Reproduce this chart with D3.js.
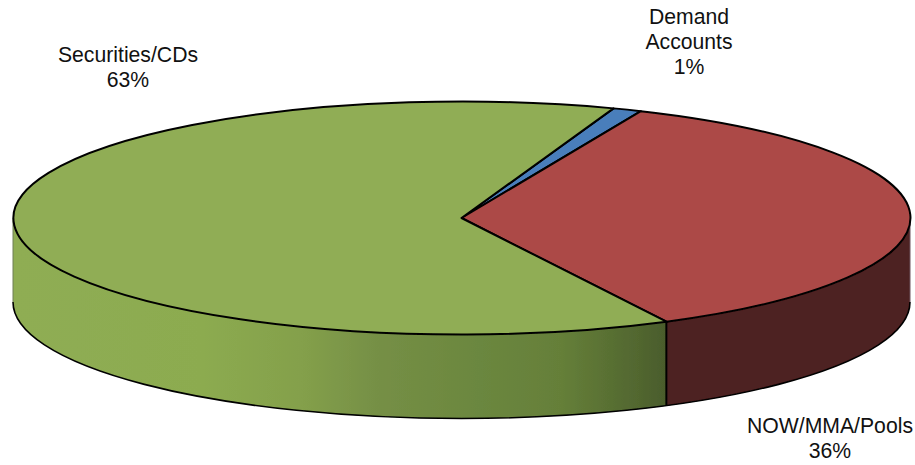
<!DOCTYPE html>
<html>
<head>
<meta charset="utf-8">
<script src="https://cdn.jsdelivr.net/npm/d3@7"></script>
<style>
  html, body { margin: 0; padding: 0; background: #fff; }
  svg { display: block; }
</style>
</head>
<body>
<div id="chart"></div>
<script>
// chart data
var categories = ["Demand Accounts", "NOW/MMA/Pools", "Securities/CDs"];
var values = [1.05, 35.9, 63.05];
var topColors = ["#4a7ebb", "#ac4a47", "#90ad55"];

// text lines of each label, in the same order as categories
var labelLines = [["Demand", "Accounts", "1%"], ["NOW/MMA/Pools", "36%"], ["Securities/CDs", "63%"]];
var labelX = [689, 830, 128];
var labelY = [24, 433, 62];

// green wall shading, left to right
var greenStops = [[0, "#8fad53"], [0.29, "#8cab50"], [0.44, "#84a04b"], [0.56, "#758f45"], [0.715, "#6b873f"], [0.84, "#657f39"], [0.96, "#51662f"], [1, "#4a5c2c"]];

// assign SVG dimensions (pixels) to variables
var svgWidth = 915;
var svgHeight = 465;

// pie ellipse
var cx = 461.5;
var cy = 218;
var rx = 448.5;
var ry = 116.5;
var depth = 84;

var svg = d3.select("#chart")
  .append("svg")
  .attr("width", svgWidth)
  .attr("height", svgHeight);

// pie angles, clockwise from the top
var startAngle = 19.8 * Math.PI / 180;
var pie = d3.pie()
  .sort(null)
  .startAngle(startAngle)
  .endAngle(startAngle + 2 * Math.PI);
var slices = pie(values);
var splitAngle = slices[1].endAngle;

// point on the rim for an angle
function rim(a, dy) {
  return [cx + rx * Math.sin(a), cy - ry * Math.cos(a) + (dy || 0)];
}

var defs = svg.append("defs");

// the reference is a slightly soft scan
defs.append("filter")
  .attr("id", "soft")
  .append("feGaussianBlur")
  .attr("stdDeviation", 0.35);

// gradient for the green wall
var grad = defs.append("linearGradient")
  .attr("id", "greenWall")
  .attr("gradientUnits", "userSpaceOnUse")
  .attr("x1", cx - rx)
  .attr("x2", rim(splitAngle)[0])
  .attr("y1", 0)
  .attr("y2", 0);
grad.selectAll("stop")
  .data(greenStops)
  .enter()
  .append("stop")
  .attr("offset", d => d[0])
  .attr("stop-color", d => d[1]);

var chart = svg.append("g").attr("filter", "url(#soft)");

// front wall between two angles (both in the lower half)
function wallPath(a0, a1) {
  var p0 = rim(a0), p1 = rim(a1), p2 = rim(a1, depth), p3 = rim(a0, depth);
  return `M${p0}A${rx},${ry} 0 0 1 ${p1}L${p2}A${rx},${ry} 0 0 0 ${p3}Z`;
}

// walls, only the front half shows
var walls = [
  { a0: Math.PI / 2, a1: splitAngle, fill: "#4e2020", edge: "#6d5560" },
  { a0: splitAngle, a1: 3 * Math.PI / 2, fill: "url(#greenWall)", edge: "#6f7f58" }
];
chart.append("g").selectAll("path")
  .data(walls)
  .enter()
  .append("path")
  .attr("d", d => wallPath(d.a0, d.a1))
  .attr("fill", d => d.fill)
  .attr("stroke", "none");

// thin side edges of the wall
chart.append("g").selectAll("line")
  .data(walls)
  .enter()
  .append("line")
  .attr("x1", d => rim(d.a0 === splitAngle ? d.a1 : d.a0)[0])
  .attr("x2", d => rim(d.a0 === splitAngle ? d.a1 : d.a0)[0])
  .attr("y1", cy)
  .attr("y2", cy + depth)
  .attr("stroke", d => d.edge)
  .attr("stroke-width", 1);

// bottom rim and the divider between the two walls
var p0 = rim(Math.PI / 2, depth), p1 = rim(3 * Math.PI / 2, depth);
chart.append("path")
  .attr("d", `M${p0}A${rx},${ry} 0 0 1 ${p1}`)
  .attr("fill", "none")
  .attr("stroke", "#000")
  .attr("stroke-width", 1.6);
chart.append("line")
  .attr("x1", rim(splitAngle)[0])
  .attr("x2", rim(splitAngle)[0])
  .attr("y1", rim(splitAngle)[1])
  .attr("y2", rim(splitAngle, depth)[1])
  .attr("stroke", "#000")
  .attr("stroke-width", 2);

// top of the pie, unit arc squashed into the ellipse
var arc = d3.arc().innerRadius(0).outerRadius(1);
chart.append("g")
  .attr("transform", `translate(${cx}, ${cy}) scale(${rx}, ${ry})`)
  .selectAll("path")
  .data(slices)
  .enter()
  .append("path")
  .attr("d", arc)
  .attr("fill", (d, i) => topColors[i])
  .attr("stroke", "#000")
  .attr("stroke-width", 2)
  .attr("stroke-linejoin", "round")
  .attr("vector-effect", "non-scaling-stroke");

// labels
var labels = svg.append("g").selectAll("text")
  .data(categories)
  .enter()
  .append("text")
  .attr("text-anchor", "middle")
  .attr("font-family", "Liberation Sans, Arial, sans-serif")
  .attr("font-size", "21.2px")
  .attr("fill", "#111");

labels.selectAll("tspan")
  .data((d, i) => labelLines[i].map(t => ({ t: t, i: i })))
  .enter()
  .append("tspan")
  .attr("x", d => labelX[d.i])
  .attr("y", (d, j) => labelY[d.i] + j * 25)
  .text(d => d.t);
</script>
</body>
</html>
